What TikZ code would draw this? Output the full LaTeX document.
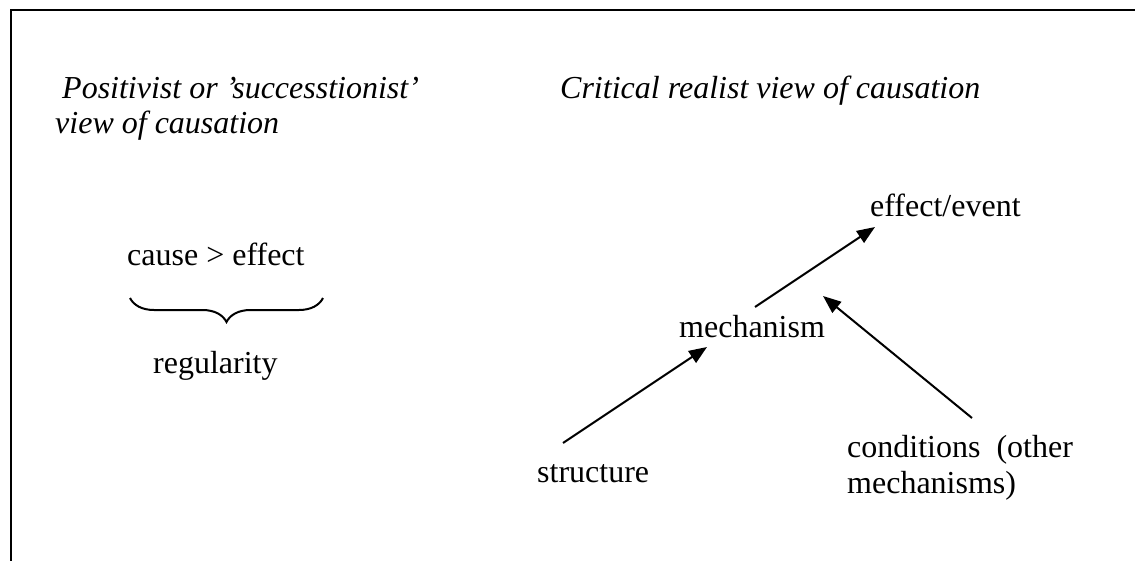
\documentclass[tikz,border=0pt]{standalone}
\usepackage{fontspec}
\setmainfont{Liberation Serif}
\usetikzlibrary{arrows.meta,decorations.pathreplacing}
\tikzset{
  txt/.style={inner sep=0pt,anchor=base west,font=\fontsize{32}{36}\selectfont},
  ttl/.style={txt,font=\fontsize{32}{35}\selectfont\itshape,align=left},
  link/.style={line width=2pt,-{Triangle[length=18pt,width=14pt]}}
}
\begin{document}
\begin{tikzpicture}[x=1pt,y=-1pt]
        \useasboundingbox (0,0) rectangle (1135,560);
        \clip (0,0) rectangle (1135,560);
        \draw[line width=2.2pt] (11,10) rectangle (1150,575);
        % left side
        \node[ttl] (positivist) at (55,133) {\hspace*{7pt}Positivist or ’successtionist’\\view of causation};
        \node[txt] (causeeffect) at (127,265) {cause > effect};
        \draw[line width=2pt,decorate,decoration={brace,amplitude=24pt}] (323,298) -- (130,298);
        \node[txt] (regularity) at (153,373) {regularity};
        % right side
        \node[ttl] (realist) at (560,98) {Critical realist view of causation};
        \node[txt] (effect) at (870,216) {effect/event};
        \node[txt] (mechanism) at (679,337) {mechanism};
        \node[txt] (structure) at (537,482) {structure};
        \node[txt,align=left] (conditions) at (847,493) {conditions~~(other\\mechanisms)};
        \coordinate (s-out) at (563,443);
        \coordinate (m-in) at (707,347);
        \coordinate (m-out) at (755,307);
        \coordinate (e-in) at (875,227);
        \coordinate (c-out) at (972,418);
        \coordinate (c-in) at (823,296);
        \draw[link] (s-out) -- (m-in);
        \draw[link] (m-out) -- (e-in);
        \draw[link] (c-out) -- (c-in);
      \end{tikzpicture}
\end{document}
